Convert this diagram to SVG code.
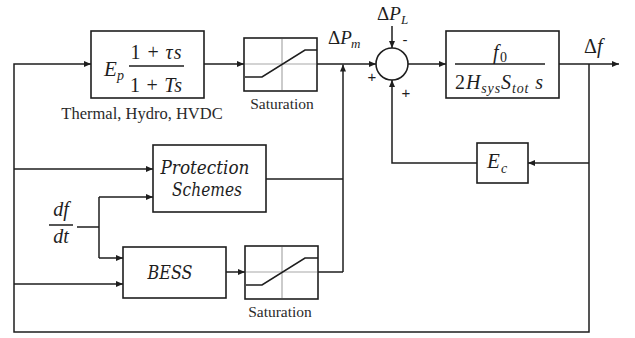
<svg xmlns="http://www.w3.org/2000/svg" width="635" height="338" viewBox="0 0 635 338">
<style>
.blk{fill:#fff;stroke:#1e1e1e;stroke-width:1.6}
.ln{fill:none;stroke:#1e1e1e;stroke-width:1.5}
.grid{stroke:#a8a8a8;stroke-width:1.2}
.sat{fill:none;stroke:#1e1e1e;stroke-width:1.6}
.i{font-style:italic}
</style>
<defs>
<marker id="ar" markerWidth="7" markerHeight="6" refX="7" refY="3" orient="auto" markerUnits="userSpaceOnUse">
<path d="M0,0 L7,3 L0,6 z" fill="#1e1e1e"/>
</marker>
</defs>

<g id="connectors">
<path class="ln" d="M589,64 V332 H14 V64 H91" marker-end="url(#ar)"/>
<path class="ln" d="M14,169 H153" marker-end="url(#ar)"/>
<path class="ln" d="M14,284 H123" marker-end="url(#ar)"/>
<path class="ln" d="M204,64 H244" marker-end="url(#ar)"/>
<path class="ln" d="M317,64 H376" marker-end="url(#ar)"/>
<path class="ln" d="M343,272 V64.5" marker-end="url(#ar)"/>
<path class="ln" d="M318,272 H343"/>
<path class="ln" d="M266,179 H343"/>
<path class="ln" d="M226,272 H245" marker-end="url(#ar)"/>
<path class="ln" d="M77,227 H99"/>
<path class="ln" d="M99,197 V258"/>
<path class="ln" d="M99,197 H153" marker-end="url(#ar)"/>
<path class="ln" d="M99,258 H123" marker-end="url(#ar)"/>
<path class="ln" d="M392,26 V48" marker-end="url(#ar)"/>
<path class="ln" d="M408,64 H446" marker-end="url(#ar)"/>
<path class="ln" d="M559,64 H619" marker-end="url(#ar)"/>
<path class="ln" d="M589,163 H528" marker-end="url(#ar)"/>
<path class="ln" d="M477,163 H392 V80" marker-end="url(#ar)"/>
</g>

<g id="gen" font-family="Liberation Serif, serif" fill="#1e1e1e">
<rect class="blk" x="91" y="31" width="113" height="67"/>
<text class="i" x="104" y="76" font-size="21">E</text>
<text class="i" x="117" y="80" font-size="14">p</text>
<text x="156" y="59" font-size="20" text-anchor="middle" textLength="51" lengthAdjust="spacing">1 + <tspan class="i">τs</tspan></text>
<line class="ln" x1="129" y1="66" x2="184" y2="66" stroke-width="1.3"/>
<text x="156" y="92" font-size="20" text-anchor="middle" textLength="52" lengthAdjust="spacing">1 + <tspan class="i">Ts</tspan></text>
<text x="142" y="119" font-size="16.5" text-anchor="middle" fill="#2a2a2a">Thermal, Hydro, HVDC</text>
</g>

<g id="sat1" font-family="Liberation Serif, serif">
<rect class="blk" x="244" y="38" width="73" height="53"/>
<line class="grid" x1="282" y1="39" x2="282" y2="90"/>
<line class="grid" x1="245" y1="64" x2="316" y2="64"/>
<polyline class="sat" points="245,77 262,77 305,50 317,50"/>
<text x="282" y="109" font-size="15.5" text-anchor="middle" fill="#2a2a2a">Saturation</text>
</g>

<g id="sum" font-family="Liberation Serif, serif" fill="#1e1e1e">
<circle cx="392" cy="64" r="16" fill="#fff" stroke="#1e1e1e" stroke-width="1.6"/>
<text class="i" x="377" y="20" font-size="19"><tspan font-style="normal">Δ</tspan>P</text>
<text class="i" x="401" y="24" font-size="13">L</text>
<text class="i" x="328" y="44" font-size="19"><tspan font-style="normal">Δ</tspan>P</text>
<text class="i" x="351" y="48" font-size="13">m</text>
<text x="405" y="45" font-size="15" font-family="Liberation Sans, sans-serif" text-anchor="middle">-</text>
<text x="372" y="82" font-size="15" font-family="Liberation Sans, sans-serif" text-anchor="middle">+</text>
<text x="406" y="98" font-size="15" font-family="Liberation Sans, sans-serif" text-anchor="middle">+</text>
</g>

<g id="plant" font-family="Liberation Serif, serif" fill="#1e1e1e">
<rect class="blk" x="446" y="31" width="113" height="67"/>
<text class="i" x="493" y="59" font-size="20">f</text>
<text x="500" y="62" font-size="14">0</text>
<line class="ln" x1="455" y1="64" x2="545" y2="64" stroke-width="1.3"/>
<text x="455" y="89" font-size="20" textLength="88" lengthAdjust="spacing">2<tspan class="i">H</tspan><tspan class="i" font-size="14" dy="4">sys</tspan><tspan class="i" dy="-4">S</tspan><tspan class="i" font-size="14" dy="4">tot</tspan><tspan class="i" dy="-4"> s</tspan></text>
<text class="i" x="584" y="53" font-size="20"><tspan font-style="normal">Δ</tspan>f</text>
</g>

<g id="protection" font-family="DejaVu Serif, serif" fill="#1e1e1e">
<rect class="blk" x="153" y="145" width="113" height="67"/>
<text class="i" x="205" y="174" font-size="18" text-anchor="middle" textLength="89" lengthAdjust="spacingAndGlyphs">Protection</text>
<text class="i" x="207" y="196" font-size="18" text-anchor="middle" textLength="70" lengthAdjust="spacingAndGlyphs">Schemes</text>
</g>

<g id="dfdt" font-family="Liberation Serif, serif" fill="#1e1e1e">
<text class="i" x="61" y="216" font-size="20" text-anchor="middle">df</text>
<line class="ln" x1="49" y1="225" x2="73" y2="225" stroke-width="1.3"/>
<text class="i" x="61" y="243" font-size="20" text-anchor="middle">dt</text>
</g>

<g id="bess" font-family="DejaVu Serif, serif" fill="#1e1e1e">
<rect class="blk" x="123" y="247" width="103" height="51"/>
<text class="i" x="170" y="279" font-size="18" text-anchor="middle" textLength="45" lengthAdjust="spacingAndGlyphs">BESS</text>
</g>

<g id="sat2" font-family="Liberation Serif, serif">
<rect class="blk" x="245" y="246" width="73" height="53"/>
<line class="grid" x1="282" y1="247" x2="282" y2="298"/>
<line class="grid" x1="246" y1="272" x2="317" y2="272"/>
<polyline class="sat" points="246,285 262,285 305,258 318,258"/>
<text x="280" y="317" font-size="15.5" text-anchor="middle" fill="#2a2a2a">Saturation</text>
</g>

<g id="ec" font-family="Liberation Serif, serif" fill="#1e1e1e">
<rect class="blk" x="477" y="143" width="51" height="40"/>
<text class="i" x="487" y="168" font-size="21">E</text>
<text class="i" x="501" y="173" font-size="14">c</text>
</g>
</svg>
